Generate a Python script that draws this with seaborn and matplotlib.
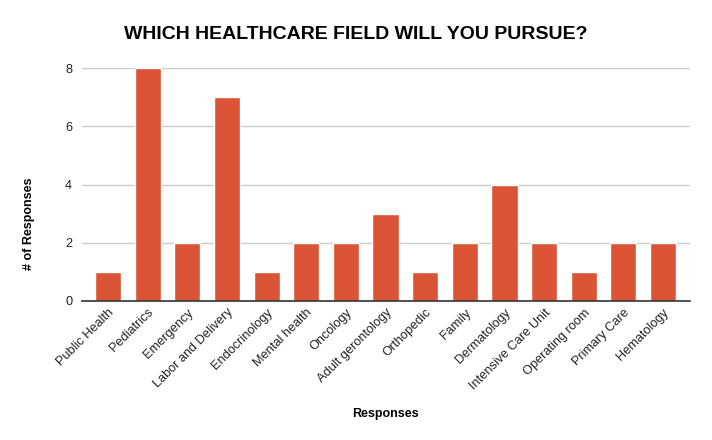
import matplotlib
matplotlib.use("Agg")
import matplotlib.pyplot as plt
import seaborn as sns
import pandas as pd

# survey answers
fields = ['Public Health', 'Pediatrics', 'Emergency', 'Labor and Delivery', 'Endocrinology',
          'Mental health', 'Oncology', 'Adult gerontology', 'Orthopedic', 'Family',
          'Dermatology', 'Intensive Care Unit', 'Operating room', 'Primary Care', 'Hematology']
counts = [1, 8, 2, 7, 1, 2, 2, 3, 1, 2, 4, 2, 1, 2, 2]

df = pd.DataFrame({'field': fields, 'count': counts})

sns.set_style('white')
plt.rcParams['font.family'] = ['Liberation Sans', 'DejaVu Sans']

fig = plt.figure(figsize=(7.12, 4.4), dpi=100)
ax = fig.add_axes([0.115, 0.316, 0.854, 0.529])

sns.barplot(data=df, x='field', y='count', color='#DB5436', saturation=1, width=0.66, ax=ax)

ax.set_xlim(-0.66, len(fields) - 1 + 0.68)
ax.set_ylim(0, 8)
ax.set_yticks([0, 2, 4, 6, 8])
ax.yaxis.grid(True, color='#CCCCCC', linewidth=1)
ax.set_axisbelow(True)
for s in ['top', 'right', 'left']:
    ax.spines[s].set_visible(False)
ax.spines['bottom'].set_color('#333333')
ax.spines['bottom'].set_linewidth(1.2)
ax.tick_params(axis='both', length=0, labelsize=9.2, colors='#222222', pad=7)
ax.set_xticks(range(len(fields)))
ax.set_xticklabels(fields, rotation=45, ha='right', rotation_mode='anchor')
ax.tick_params(axis='x', pad=4)

ax.set_xlabel('Responses', fontsize=9, fontweight='bold', labelpad=12, color='black')
ax.set_ylabel('')
fig.text(29 / 712, 1 - 224 / 440, '# of Responses', rotation=90, ha='center', va='center',
         fontsize=9, fontweight='bold', color='black')
fig.text(0.5, 0.922, 'WHICH HEALTHCARE FIELD WILL YOU PURSUE?', ha='center', va='center',
         fontsize=14, fontweight='bold', color='black')

fig.savefig('out.png', dpi=100)
